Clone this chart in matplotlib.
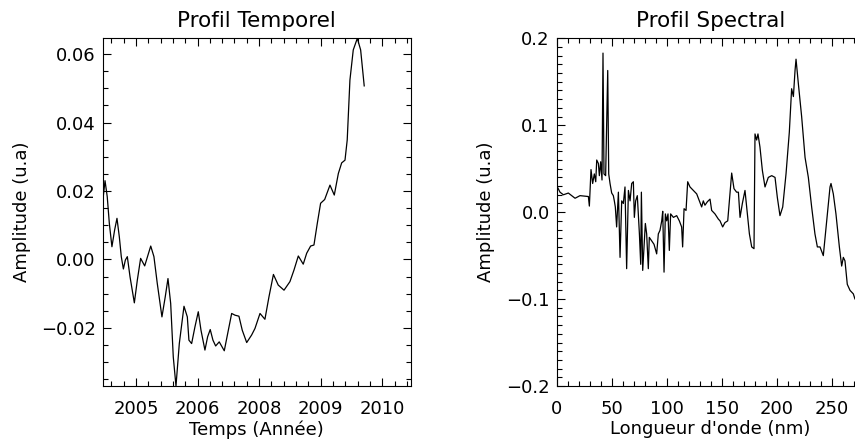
import numpy as np
import matplotlib
matplotlib.use('Agg')
from matplotlib import pyplot as plt
from matplotlib.ticker import MultipleLocator, FixedLocator, FixedFormatter


# Temporal profile (x = image index, y = amplitude)
TIME_INDEX = [
    0.0, 1.9, 3.7, 5.4, 7.5, 9.7, 11.6, 13.5, 15.1, 16.8, 18.4, 20.0, 22.2,
    25.7, 28.1, 30.8, 34.1, 39.0, 41.6, 44.3, 48.1, 50.8, 53.0, 55.2, 57.3,
    59.5, 62.2, 66.0, 68.7, 70.0, 72.2, 74.9, 77.6, 79.8, 83.0, 85.2, 87.3,
    89.5, 91.7, 94.6, 98.7, 101.5, 104.7, 107.4, 110.6, 113.3, 116.9, 120.9,
    123.6, 127.7, 131.7, 135.0, 138.6, 142.5, 147.2, 152.0, 155.3, 158.8,
    162.8, 165.6, 168.8, 171.5, 174.2, 176.9, 180.2, 184.5, 188.0, 191.3,
    194.0, 196.7, 198.5, 200.7, 203.4, 206.7, 209.4, 212.3,
]
TIME_AMPLITUDE = [
    0.0168, 0.0230, 0.0183, 0.0105, 0.0037, 0.0086, 0.0120, 0.0066, 0.0008,
    -0.0028, -0.0002, 0.0008, -0.0051, -0.0127, -0.0061, 0.0003, -0.0019,
    0.0039, 0.0008, -0.0070, -0.0168, -0.0109, -0.0056, -0.0129, -0.0285,
    -0.0370, -0.0246, -0.0137, -0.0168, -0.0236, -0.0246, -0.0197, -0.0153,
    -0.0207, -0.0265, -0.0226, -0.0205, -0.0236, -0.0253, -0.0241, -0.0267,
    -0.0216, -0.0158, -0.0163, -0.0166, -0.0207, -0.0243, -0.0221, -0.0202,
    -0.0158, -0.0175, -0.0109, -0.0044, -0.0075, -0.0090, -0.0065, -0.0031,
    0.0010, -0.0014, 0.0018, 0.0039, 0.0042, 0.0105, 0.0164, 0.0175, 0.0217,
    0.0188, 0.0251, 0.0282, 0.0290, 0.0349, 0.0524, 0.0612, 0.0646, 0.0612,
    0.0507,
]
TIME_TICKS = [27, 77, 127, 177, 227]
TIME_LABELS = ['2005', '2006', '2008', '2009', '2010']

# Spectral profile (x = wavelength in nm, y = amplitude)
WAVELENGTH = [
    0.6, 3.0, 6.1, 10.6, 16.7, 21.2, 28.8, 29.7, 31.2, 32.7, 34.2, 35.5, 36.4,
    37.9, 38.8, 40.0, 41.2, 42.1, 43.0, 44.5, 46.4, 47.3, 48.5, 50.0, 51.5,
    52.4, 53.3, 54.5, 56.1, 57.6, 59.1, 60.6, 62.1, 63.6, 65.2, 66.7, 68.2,
    69.7, 70.6, 71.8, 73.3, 75.2, 76.4, 77.0, 78.2, 79.4, 80.6, 81.8, 83.3,
    84.2, 86.4, 88.5, 90.9, 92.4, 93.9, 95.5, 96.4, 97.6, 98.8, 100.0, 101.2,
    102.4, 103.6, 106.1, 109.1, 111.5, 113.6, 114.5, 115.8, 117.6, 119.1,
    121.2, 124.2, 127.3, 129.7, 131.8, 133.3, 134.8, 137.0, 139.4, 140.9,
    143.9, 147.0, 148.5, 150.9, 153.0, 155.5, 157.0, 159.1, 161.2, 163.6,
    165.2, 166.7, 168.8, 171.2, 172.7, 175.2, 177.3, 179.4, 180.3, 181.8,
    183.0, 184.8, 187.0, 189.4, 192.4, 195.5, 198.5, 200.6, 203.0, 205.5,
    208.5, 211.5, 213.6, 215.2, 216.7, 217.6, 219.7, 222.7, 225.8, 228.8,
    231.8, 234.8, 237.0, 239.4, 242.4, 245.5, 248.5, 249.4, 251.5, 253.9,
    257.0, 259.1, 260.6, 262.1, 264.2, 266.7, 269.7, 271.2, 275.0,
]
SPECTRAL_AMPLITUDE = [
    0.029, 0.023, 0.020, 0.022, 0.016, 0.019, 0.018, 0.007, 0.049, 0.033,
    0.044, 0.035, 0.060, 0.056, 0.042, 0.058, 0.037, 0.183, 0.044, 0.042,
    0.163, 0.044, 0.033, 0.022, 0.019, 0.013, 0.006, -0.017, 0.023, -0.052,
    0.013, 0.010, 0.029, -0.065, 0.025, 0.013, 0.033, 0.035, -0.006, 0.013,
    0.019, -0.025, -0.060, 0.023, -0.067, -0.040, -0.013, -0.025, -0.065,
    -0.029, -0.033, -0.037, -0.048, -0.025, -0.021, -0.010, 0.001, -0.069,
    -0.002, -0.010, -0.002, -0.044, -0.002, -0.006, -0.004, -0.010, -0.017,
    -0.040, 0.004, 0.002, 0.035, 0.029, 0.025, 0.021, 0.013, 0.006, 0.013,
    0.008, 0.012, 0.015, 0.002, -0.002, -0.008, -0.010, -0.017, -0.012,
    -0.010, 0.013, 0.045, 0.027, 0.023, 0.023, -0.006, 0.010, 0.025, 0.006,
    -0.025, -0.040, -0.042, 0.090, 0.083, 0.090, 0.075, 0.048, 0.029, 0.040,
    0.042, 0.040, 0.017, -0.004, 0.006, 0.044, 0.092, 0.142, 0.133, 0.163,
    0.176, 0.148, 0.110, 0.063, 0.040, 0.006, -0.025, -0.040, -0.040, -0.050,
    -0.010, 0.029, 0.033, 0.021, -0.002, -0.040, -0.062, -0.052, -0.056,
    -0.083, -0.090, -0.094, -0.100, -0.102,
]

FONT_SIZE = 13
TITLE_SIZE = 15.5


def idl_style(ax):
    """Ticks on all four sides, pointing inward, like an IDL plot."""
    ax.tick_params(which='both', direction='in', top=True, right=True,
                   labelsize=FONT_SIZE, width=0.8)
    ax.tick_params(which='major', length=6)
    ax.tick_params(which='minor', length=3.3)
    ax.tick_params(axis='x', pad=10)
    ax.tick_params(axis='y', pad=5)
    for spine in ax.spines.values():
        spine.set_linewidth(0.8)


fig = plt.figure(figsize=(8.55, 4.41), dpi=100)

# Temporal profile
ax1 = fig.add_axes([0.1201, 0.1247, 0.3602, 0.7884])
ax1.plot(TIME_INDEX, TIME_AMPLITUDE, color='black', lw=0.9)
ax1.set_xlim(0, 250)
ax1.set_ylim(-0.037, 0.0646)
ax1.xaxis.set_major_locator(FixedLocator(TIME_TICKS))
ax1.xaxis.set_major_formatter(FixedFormatter(TIME_LABELS))
ax1.xaxis.set_minor_locator(FixedLocator(np.arange(7, 250, 10)))
ax1.yaxis.set_major_locator(MultipleLocator(0.02))
ax1.yaxis.set_minor_locator(MultipleLocator(0.005))
idl_style(ax1)
ax1.set_title('Profil Temporel', fontsize=TITLE_SIZE, pad=8)
ax1.set_xlabel('Temps (Année)', fontsize=FONT_SIZE)
ax1.set_ylabel('Amplitude (u.a)', fontsize=FONT_SIZE)
ax1.xaxis.set_label_coords(0.5, -0.098)
ax1.yaxis.set_label_coords(-0.232, 0.5)

# Spectral profile
ax2 = fig.add_axes([0.6511, 0.1247, 0.3602, 0.7884])
ax2.plot(WAVELENGTH, SPECTRAL_AMPLITUDE, color='black', lw=0.9)
ax2.set_xlim(0, 280)
ax2.set_ylim(-0.2, 0.2)
ax2.xaxis.set_major_locator(MultipleLocator(50))
ax2.xaxis.set_minor_locator(MultipleLocator(10))
ax2.yaxis.set_major_locator(MultipleLocator(0.1))
ax2.yaxis.set_minor_locator(MultipleLocator(0.01))
idl_style(ax2)
ax2.set_title('Profil Spectral', fontsize=TITLE_SIZE, pad=8)
ax2.set_xlabel("Longueur d'onde (nm)", fontsize=FONT_SIZE)
ax2.set_ylabel('Amplitude (u.a)', fontsize=FONT_SIZE)
ax2.xaxis.set_label_coords(0.5, -0.098)
ax2.yaxis.set_label_coords(-0.2, 0.5)

fig.savefig('out.png', dpi=100)
